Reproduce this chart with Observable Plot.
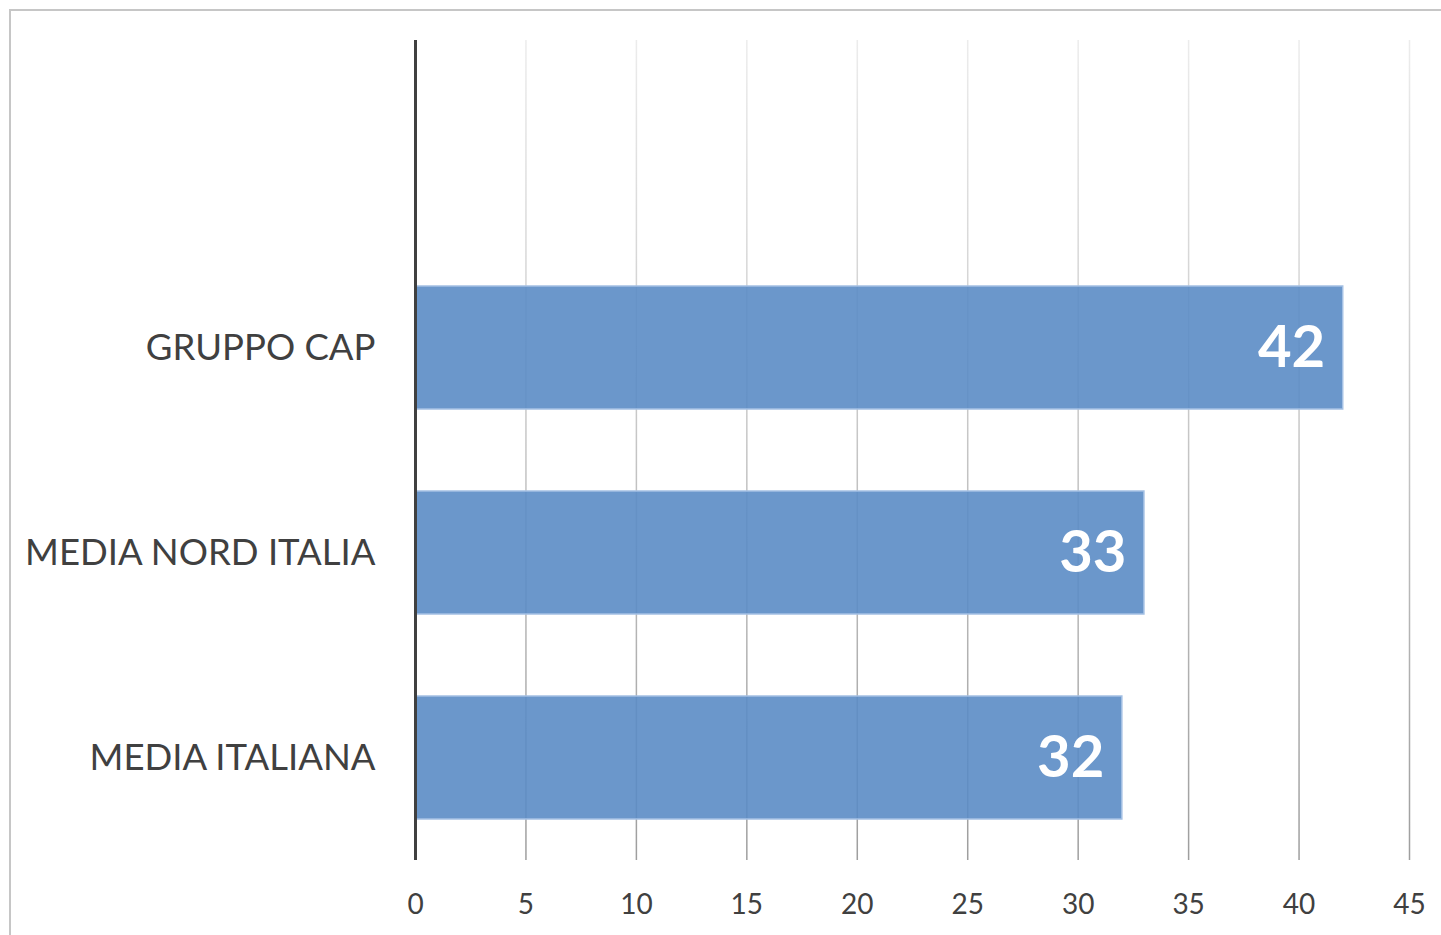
<!DOCTYPE html>
<html><head><meta charset="utf-8">
<script src="https://cdn.jsdelivr.net/npm/d3@7"></script>
<script src="https://cdn.jsdelivr.net/npm/@observablehq/plot@0.6"></script>
<style>
html,body{margin:0;padding:0;background:#fff;}
#frame{position:absolute;left:9px;top:9px;width:1432px;height:926px;border-top:2px solid #c6c6c6;border-left:2px solid #c6c6c6;overflow:hidden;background:#fff;}
#frame svg{display:block;}
</style></head><body><div id="frame"></div>
<script>
const categories = ["GRUPPO CAP", "MEDIA NORD ITALIA", "MEDIA ITALIANA"];
const values = [42, 33, 32];
const xTicks = [0, 5, 10, 15, 20, 25, 30, 35, 40, 45];
const emptySlot = " ";

const data = categories.map((c, i) => ({category: c, value: values[i]}));
const font = "Lato, 'Open Sans', sans-serif";
const W = 1430, H = 924, mT = 29, mB = 75;

const chart = Plot.plot({
  width: W, height: H,
  marginLeft: 404, marginRight: 32, marginTop: mT, marginBottom: mB,
  style: {fontFamily: font, color: "#404040", background: "#fff"},
  x: {domain: [0, 45]},
  y: {domain: [emptySlot, ...categories], paddingInner: 0.4, paddingOuter: 0.2},
  marks: [
    Plot.ruleX(xTicks.filter(t => t > 0), {stroke: "url(#gridGrad)", strokeWidth: 1.5}),
    Plot.barX(data, {x: "value", y: "category", fill: "#5b8cc5", fillOpacity: 0.9, stroke: "#a4c0e4", strokeWidth: 1.5}),
    Plot.ruleX([0], {stroke: "#404040", strokeWidth: 3}),
    Plot.axisX({ticks: xTicks, tickSize: 0, tickPadding: 34, fontSize: 28, fill: "#404040", label: null}),
    Plot.axisY({tickSize: 0, tickPadding: 40, fontSize: 36.5, fill: "#404040", label: null}),
    Plot.text(data, {x: "value", y: "category", text: d => String(d.value), textAnchor: "end", dx: -18, fill: "white", fontWeight: "bold", fontSize: 58})
  ]
});

const svg = d3.select(chart);
const defs = svg.insert("defs", ":first-child");
const g = defs.append("linearGradient").attr("id", "gridGrad")
  .attr("gradientUnits", "userSpaceOnUse")
  .attr("x1", 0).attr("x2", 0).attr("y1", mT).attr("y2", H - mB);
g.append("stop").attr("offset", "0%").attr("stop-color", "#ececec");
g.append("stop").attr("offset", "100%").attr("stop-color", "#9e9e9e");

document.getElementById("frame").appendChild(chart);
</script></body></html>
